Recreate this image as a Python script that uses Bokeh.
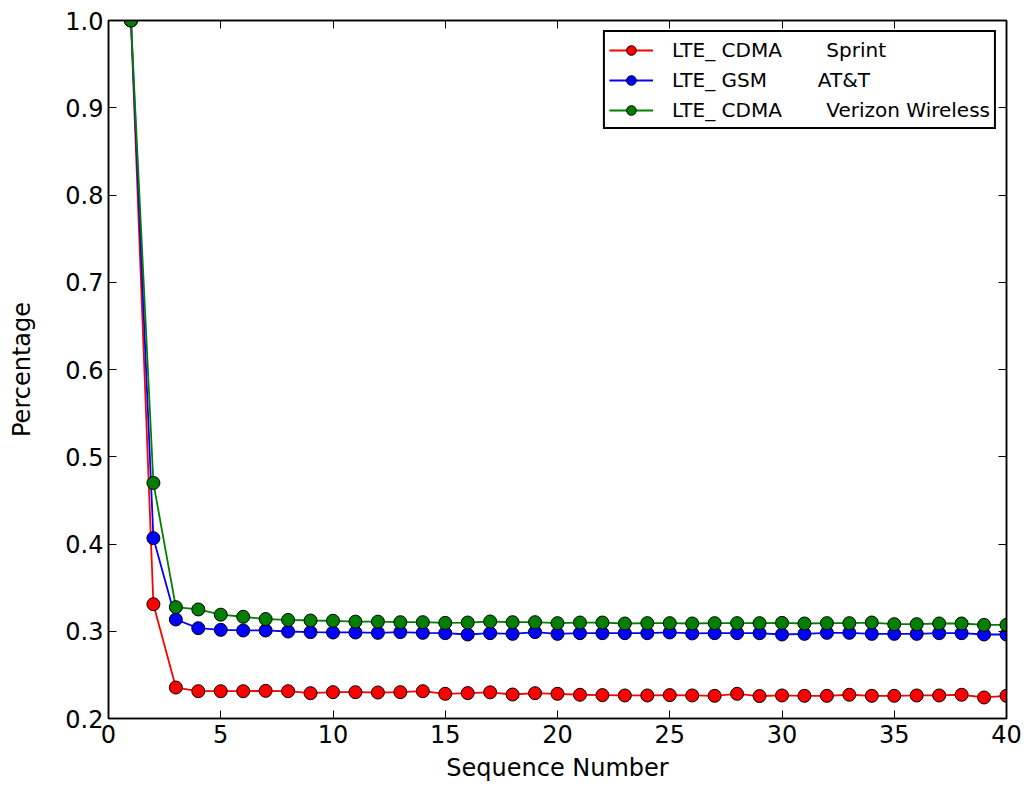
from bokeh.plotting import figure
from bokeh.models import (LinearAxis, FixedTicker, Range1d, Legend, LegendItem,
                          PrintfTickFormatter, CustomJSTickFormatter)
from bokeh.embed import file_html
from bokeh.resources import INLINE

seq = list(range(1, 41))

sprint = [1.0, 0.331, 0.2355, 0.2313, 0.2313, 0.2313, 0.2317, 0.2313, 0.2290, 0.2302,
          0.2302, 0.2298, 0.2302, 0.2313, 0.2283, 0.2291, 0.2300, 0.2275, 0.2290, 0.2283,
          0.2272, 0.2268, 0.2264, 0.2264, 0.2268, 0.2264, 0.2260, 0.2283, 0.2257, 0.2264,
          0.2260, 0.2260, 0.2272, 0.2260, 0.2260, 0.2264, 0.2264, 0.2272, 0.2241, 0.2260]

att = [1.0, 0.4067, 0.3135, 0.3035, 0.3016, 0.3009, 0.3009, 0.2997, 0.2990, 0.2986,
       0.2986, 0.2982, 0.2990, 0.2982, 0.2978, 0.2963, 0.2978, 0.2970, 0.2990, 0.2970,
       0.2978, 0.2978, 0.2978, 0.2978, 0.2986, 0.2975, 0.2978, 0.2978, 0.2978, 0.2963,
       0.2970, 0.2982, 0.2982, 0.2970, 0.2970, 0.2970, 0.2978, 0.2978, 0.2963, 0.2963]

verizon = [1.0, 0.470, 0.3276, 0.3250, 0.3190, 0.3166, 0.3140, 0.3130, 0.3123, 0.3120,
           0.3110, 0.3110, 0.3104, 0.3104, 0.3096, 0.3100, 0.3112, 0.3104, 0.3104, 0.3093,
           0.3100, 0.3100, 0.3089, 0.3093, 0.3093, 0.3089, 0.3093, 0.3093, 0.3093, 0.3096,
           0.3089, 0.3093, 0.3093, 0.3100, 0.3081, 0.3081, 0.3089, 0.3089, 0.3073, 0.3073]

NB = "\u00a0"
labels = ["LTE_ CDMA" + NB * 7 + "Sprint",
          "LTE_ GSM" + NB * 8 + "AT&T",
          "LTE_ CDMA" + NB * 7 + "Verizon Wireless"]
colors = ["#ff0000", "#0000ff", "#007f00"]
series = [sprint, att, verizon]

x_ticks = [0, 5, 10, 15, 20, 25, 30, 35, 40]
y_ticks = [0.2, 0.3, 0.4, 0.5, 0.6, 0.7, 0.8, 0.9, 1.0]

FONT = "DejaVu Sans"

p = figure(width=1024, height=786, output_backend="svg", toolbar_location=None,
           x_range=Range1d(0, 40), y_range=Range1d(0.2, 1.0),
           min_border_left=108, min_border_right=18, min_border_top=20,
           min_border_bottom=68, x_axis_label="Sequence Number",
           y_axis_label="Percentage")
p.grid.visible = False
p.outline_line_color = "black"
p.outline_line_width = 1.5
p.background_fill_color = "white"
p.border_fill_color = "white"

def style_axis(ax, show_labels):
    ax.major_tick_in = 8
    ax.major_tick_out = 0
    ax.minor_tick_in = 0
    ax.minor_tick_out = 0
    ax.axis_line_width = 1.5
    ax.axis_line_color = "black"
    ax.major_tick_line_width = 1
    ax.major_tick_line_color = "black"
    if show_labels:
        ax.major_label_text_font = FONT
        ax.major_label_text_font_size = "24px"
        ax.major_label_text_color = "black"
        ax.axis_label_text_font = FONT
        ax.axis_label_text_font_size = "24px"
        ax.axis_label_text_font_style = "normal"
        ax.axis_label_text_color = "black"
    else:
        ax.formatter = CustomJSTickFormatter(code="return '';")
        ax.major_label_standoff = 0

p.xaxis.ticker = FixedTicker(ticks=x_ticks)
p.yaxis.ticker = FixedTicker(ticks=y_ticks)
p.yaxis.formatter = PrintfTickFormatter(format="%.1f")
style_axis(p.xaxis[0], True)
style_axis(p.yaxis[0], True)
p.xaxis.major_label_standoff = 6
p.yaxis.major_label_standoff = 5
p.xaxis.axis_label_standoff = 8
p.yaxis.axis_label_standoff = 26

top = LinearAxis(ticker=FixedTicker(ticks=x_ticks))
right = LinearAxis(ticker=FixedTicker(ticks=y_ticks))
style_axis(top, False)
style_axis(right, False)
p.add_layout(top, "above")
p.add_layout(right, "right")

items = []
for lab, col, ys in zip(labels, colors, series):
    ln = p.line(seq, ys, line_color=col, line_width=1.8)
    sc = p.scatter(seq, ys, size=13, fill_color=col, line_color="black",
                   line_width=1)
    items.append(LegendItem(label=lab, renderers=[ln, sc]))

legend = Legend(items=items, location="top_right")
legend.label_text_font = FONT
legend.label_text_font_size = "20px"
legend.label_text_color = "black"
legend.border_line_color = "black"
legend.border_line_alpha = 1.0
legend.border_line_width = 2
legend.background_fill_alpha = 1
legend.glyph_width = 44
legend.glyph_height = 24
legend.label_height = 27
legend.spacing = 3
legend.padding = 4
legend.label_standoff = 19
legend.margin = 10
p.add_layout(legend)

open("out.html", "w").write(file_html(p, INLINE))
